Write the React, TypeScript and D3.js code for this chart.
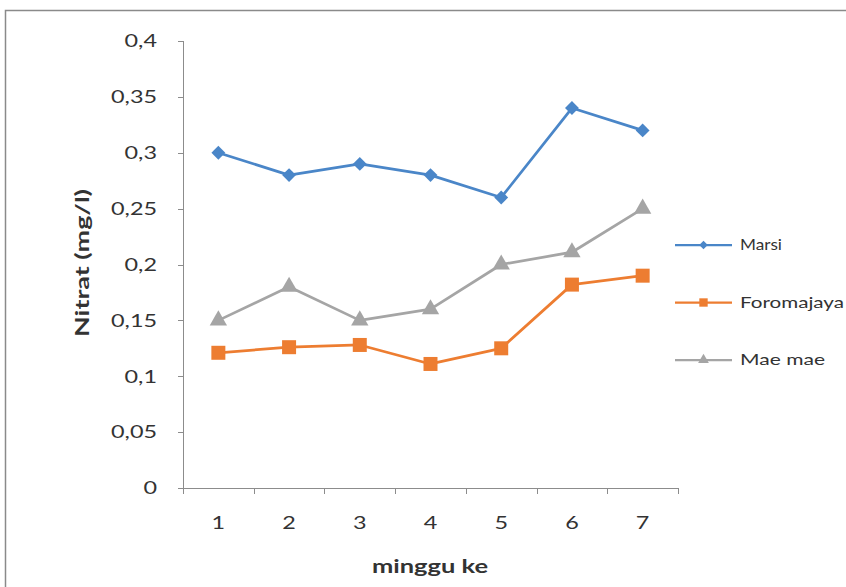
import React from "react";
import * as d3 from "d3";

const categories = ["1", "2", "3", "4", "5", "6", "7"];
const marsi = [0.30, 0.28, 0.29, 0.28, 0.26, 0.34, 0.32];
const foromajaya = [0.121, 0.126, 0.128, 0.111, 0.125, 0.182, 0.19];
const maemae = [0.15, 0.18, 0.15, 0.16, 0.20, 0.211, 0.25];
const yTicks = [0, 0.05, 0.1, 0.15, 0.2, 0.25, 0.3, 0.35, 0.4];
const seriesNames = ["Marsi", "Foromajaya", "Mae mae"];

const W = 846, H = 587;
const FONT = "Lato, 'Open Sans', sans-serif";

export default function App() {
  const x = d3.scaleBand<string>().domain(categories).range([183, 678]);
  const y = d3.scaleLinear().domain([0, 0.4]).range([488, 41]);
  const cx = (c: string) => (x(c) as number) + x.bandwidth() / 2;
  const line = d3.line<[string, number]>().x((d) => cx(d[0])).y((d) => y(d[1]));

  const series = [
    { name: seriesNames[0], values: marsi, color: "#4A86C8", shape: d3.symbolSquare, rot: 45, size: 96, lsize: 36, tl: 42 },
    { name: seriesNames[1], values: foromajaya, color: "#ED7D31", shape: d3.symbolSquare, rot: 0, size: 196, lsize: 70, tl: 104 },
    { name: seriesNames[2], values: maemae, color: "#A5A5A5", shape: d3.symbolTriangle, rot: 0, size: 130, lsize: 50, tl: 85 },
  ];
  const fmt = (v: number) => String(v).replace(".", ",");
  const axisColor = "#8c8c8c";
  const textColor = "#333333";

  return (
    <svg width={W} height={H} style={{ position: "absolute", left: 0, top: 0, background: "#fff" }}>
      <rect x={5.5} y={10.5} width={W + 10} height={H + 10} fill="#fff" stroke="#8a8a8a" strokeWidth={1.5} />
      {/* Y axis */}
      <line x1={183.5} x2={183.5} y1={y(0.4)} y2={y(0)} stroke={axisColor} />
      {yTicks.map((t) => (
        <g key={t}>
          <line x1={178} x2={183.5} y1={Math.round(y(t)) + 0.5} y2={Math.round(y(t)) + 0.5} stroke={axisColor} />
          <text
            transform={`translate(157,${y(t)}) scale(1.3,1)`}
            dy="0.35em"
            textAnchor="end"
            fontSize={18}
            fill={textColor}
            fontFamily={FONT}
          >
            {fmt(t)}
          </text>
        </g>
      ))}
      {/* X axis */}
      <line x1={183} x2={678} y1={488.5} y2={488.5} stroke={axisColor} />
      {categories.map((c) => (
        <line key={"t" + c} x1={Math.round(x(c) as number) + 0.5} x2={Math.round(x(c) as number) + 0.5} y1={488} y2={494} stroke={axisColor} />
      ))}
      <line x1={678.5} x2={678.5} y1={488} y2={494} stroke={axisColor} />
      {categories.map((c) => (
        <text
          key={c}
          transform={`translate(${cx(c)},523) scale(1.3,1)`}
          dy="0.35em"
          textAnchor="middle"
          fontSize={18}
          fill={textColor}
          fontFamily={FONT}
        >
          {c}
        </text>
      ))}
      <text
        x={430}
        y={567}
        dy="0.35em"
        textAnchor="middle"
        fontSize={18}
        fontWeight="bold"
        fill={textColor}
        fontFamily={FONT}
        textLength={116}
        lengthAdjust="spacingAndGlyphs"
      >
        minggu ke
      </text>
      <text
        transform={`translate(83,263) rotate(-90)`}
        textAnchor="middle"
        dy="0.35em"
        fontSize={18}
        fontWeight="bold"
        fill={textColor}
        fontFamily={FONT}
        textLength={148}
        lengthAdjust="spacingAndGlyphs"
      >
        Nitrat (mg/l)
      </text>
      {/* series */}
      {series.map((s) => (
        <g key={s.name}>
          <path
            d={line(categories.map((c, i) => [c, s.values[i]] as [string, number])) as string}
            fill="none"
            stroke={s.color}
            strokeWidth={2.75}
            strokeLinejoin="round"
          />
          {categories.map((c, i) => (
            <path
              key={c}
              d={d3.symbol().type(s.shape).size(s.size)() as string}
              transform={`translate(${cx(c)},${y(s.values[i])}) rotate(${s.rot})`}
              fill={s.color}
            />
          ))}
        </g>
      ))}
      {/* legend */}
      {series.map((s, i) => {
        const ly = 245 + i * 57.5;
        return (
          <g key={"lg" + s.name}>
            <line x1={675} x2={732} y1={ly} y2={ly} stroke={s.color} strokeWidth={2.25} />
            <path
              d={d3.symbol().type(s.shape).size(s.lsize)() as string}
              transform={`translate(703.5,${ly}) rotate(${s.rot})`}
              fill={s.color}
            />
            <text
              x={740}
              y={ly}
              dy="0.35em"
              fontSize={15}
              fill={textColor}
              fontFamily={FONT}
              textLength={s.tl}
              lengthAdjust="spacingAndGlyphs"
            >
              {s.name}
            </text>
          </g>
        );
      })}
    </svg>
  );
}
